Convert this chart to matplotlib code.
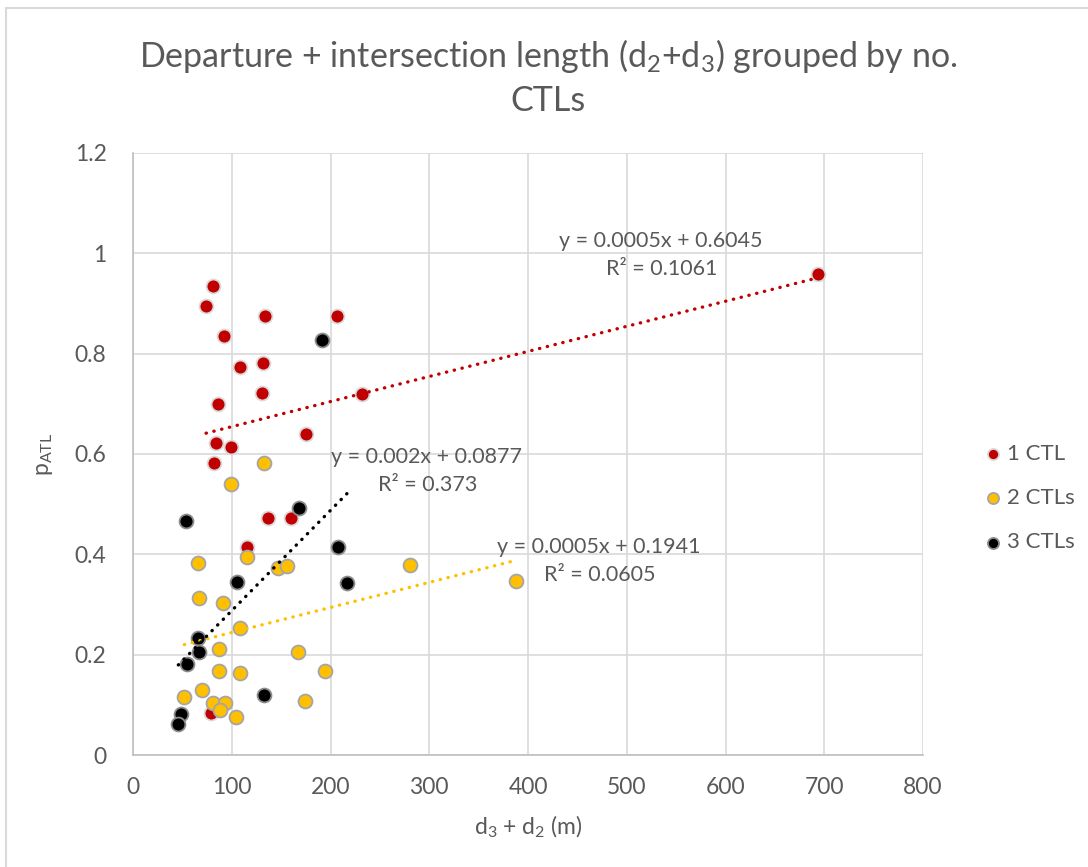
import matplotlib
matplotlib.use('Agg')
import matplotlib.pyplot as plt
from matplotlib.patches import Rectangle

plt.rcParams['font.family'] = ['Lato', 'DejaVu Sans']
plt.rcParams['mathtext.fontset'] = 'custom'
plt.rcParams['mathtext.rm'] = 'Lato'

# distance d3 + d2 (m) and p_ATL, one pair of lists per CTL group
x_1ctl = [81.4, 74, 133.7, 206.4, 92.5, 108, 131.7, 131, 232.3, 86.4,
          175.3, 84, 99, 82.4, 137, 160, 115.8, 79.3, 694]
y_1ctl = [0.935, 0.896, 0.876, 0.876, 0.836, 0.773, 0.782, 0.722, 0.720, 0.700,
          0.640, 0.622, 0.614, 0.583, 0.472, 0.472, 0.415, 0.083, 0.959]

x_2ctl = [115.8, 65.5, 146.6, 156.3, 66.5, 90.9, 108, 86.8, 167.2, 86.8,
          108, 194.2, 70.2, 52, 174, 81, 93.2, 88.4, 104.7, 132.7,
          99, 281, 388]
y_2ctl = [0.394, 0.383, 0.372, 0.376, 0.312, 0.302, 0.254, 0.211, 0.205, 0.168,
          0.163, 0.1675, 0.129, 0.1157, 0.1077, 0.104, 0.103, 0.0897, 0.0764, 0.583,
          0.541, 0.379, 0.347]

x_3ctl = [191.8, 53.7, 167.9, 208, 105.4, 217, 65.9, 66.5, 54.7, 132.7, 49, 45.9]
y_3ctl = [0.8275, 0.467, 0.493, 0.414, 0.3456, 0.343, 0.234, 0.205, 0.182, 0.1196,
          0.081, 0.061]

# linear trendlines: slope, intercept, R^2
fit_1ctl = (0.0005, 0.6045, 0.1061)
fit_2ctl = (0.0005, 0.1941, 0.0605)
fit_3ctl = (0.002, 0.0877, 0.373)

x_ticks = [0, 100, 200, 300, 400, 500, 600, 700, 800]
y_ticks = [0, 0.2, 0.4, 0.6, 0.8, 1, 1.2]

txt = '#595959'
grid = '#D9D9D9'

fig = plt.figure(figsize=(10.88, 8.67), dpi=100)
ax = fig.add_axes([133 / 1088, 1 - 755 / 867, 790 / 1088, 602 / 867])

groups = [
    ('1 CTL', x_1ctl, y_1ctl, fit_1ctl, '#C00000', '#D9D9D9'),
    ('2 CTLs', x_2ctl, y_2ctl, fit_2ctl, '#FFC000', '#A5A5A5'),
    ('3 CTLs', x_3ctl, y_3ctl, fit_3ctl, '#000000', '#8C8C8C'),
]

for label, xs, ys, fit, col, edge in groups:
    ax.scatter(xs, ys, s=100, color=col, edgecolors=edge, linewidths=1.3,
               zorder=3, label=label)

for label, xs, ys, fit, col, edge in groups:
    a, b, r2 = fit
    x0, x1 = min(xs), max(xs)
    ax.plot([x0, x1], [a * x0 + b, a * x1 + b], color=col, lw=2.4,
            linestyle=(0, (0.1, 2.3)), dash_capstyle='round', zorder=4)

# trendline equations
def fit_text(x, y, fit, dy=0.056):
    a, b, r2 = fit
    ax.text(x, y, 'y = %gx + %g' % (a, b), ha='center', va='center',
            fontsize=15.5, color=txt, zorder=5)
    ax.text(x + 1, y - dy, 'R² = %g' % r2, ha='center', va='center',
            fontsize=15.5, color=txt, zorder=5)

fit_text(534, 1.0245, fit_1ctl)
fit_text(297, 0.594, fit_3ctl)
fit_text(472, 0.4145, fit_2ctl)

ax.set_xlim(0, 800)
ax.set_ylim(0, 1.2)
ax.set_xticks(x_ticks)
ax.set_yticks(y_ticks)
ax.set_yticklabels(['0', '0.2', '0.4', '0.6', '0.8', '1', '1.2'])
ax.grid(True, color=grid, lw=1.2, zorder=0)
ax.set_axisbelow(True)
ax.tick_params(length=0, labelsize=16.5, colors=txt)
ax.tick_params(axis='x', pad=16)
ax.tick_params(axis='y', pad=19)
for side in ['top', 'right']:
    ax.spines[side].set_visible(False)
ax.spines['left'].set_color('#BFBFBF')
ax.spines['bottom'].set_color('#BFBFBF')
ax.spines['left'].set_linewidth(1.2)
ax.spines['bottom'].set_linewidth(1.2)

ax.set_xlabel(r'd$\mathregular{_3}$ + d$\mathregular{_2}$ (m)', fontsize=16.5,
              color=txt, labelpad=11)
ax.set_ylabel(r'p$\mathregular{_{ATL}}$', fontsize=16.5, color=txt, labelpad=14)

fig.text(548 / 1088, 1 - 77 / 867,
         'Departure + intersection length (d$\\mathregular{_2}$+d$\\mathregular{_3}$) grouped by no.\nCTLs',
         ha='center', va='center', fontsize=24.5, color=txt, linespacing=1.4)

leg = fig.legend(loc='center left', bbox_to_anchor=(960 / 1088, 1 - 498 / 867),
                 frameon=False, fontsize=16, labelcolor=txt, handletextpad=0.0,
                 labelspacing=1.1, markerscale=0.8, handlelength=1.2)

# light outer border of the chart area
fig.patches.append(Rectangle((6 / 1088, -0.01), 1.1, 1 - 8 / 867 + 0.01,
                             transform=fig.transFigure, fill=False,
                             edgecolor='#D9D9D9', lw=1.5))

fig.savefig('out.png', dpi=100)
